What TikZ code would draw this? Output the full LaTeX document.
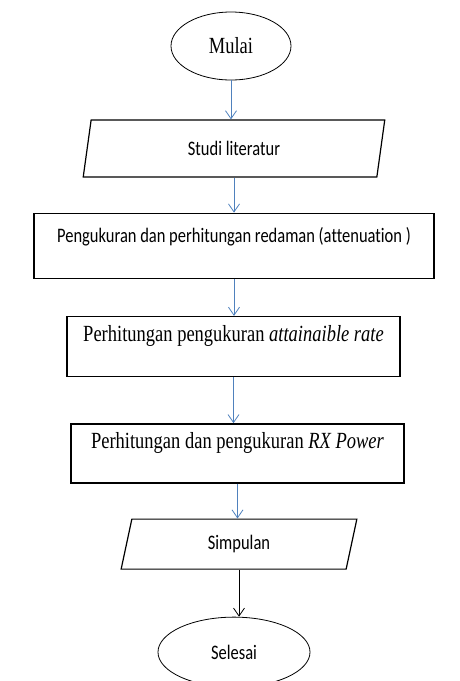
\documentclass[tikz,border=0pt]{standalone}
\usepackage{fontspec}
\usepackage{graphicx}
\setmainfont{Liberation Serif}
\newfontfamily\calibri[Ligatures=NoCommon]{Carlito}
\usetikzlibrary{shapes.geometric, arrows.meta, positioning}
\definecolor{lineblue}{RGB}{79,129,189}
\tikzstyle{term} = [draw, ellipse, line width=0.8pt, inner sep=0pt, font=\fontsize{18.5}{22}\selectfont]
\tikzstyle{io} = [draw, trapezium, trapezium left angle=80, trapezium right angle=100, trapezium stretches=true, line width=1.2pt, inner sep=0pt, font=\calibri\fontsize{16.5}{20}\selectfont]
\tikzstyle{block} = [draw, rectangle, line width=1.3pt, inner sep=0pt]
\tikzstyle{flow} = [->, draw=lineblue, line width=0.8pt]
\newcommand{\tall}[1]{\scalebox{1}[1.25]{#1}}
\begin{document}
\begin{tikzpicture}[x=1pt, y=-1pt, >={Straight Barb[length=8pt,width=11pt]}]
  \useasboundingbox (0,0) rectangle (459,681);
  \node[term, minimum width=120pt, minimum height=68pt] (mulai) at (231,46) {\tall{Mulai}};
  \node[io, minimum width=304pt, minimum height=57pt, below=39pt of mulai, xshift=3pt] (studi) {\tall{Studi literatur}};
  \node[block, minimum width=400pt, text height=29pt, text depth=36pt, below=35pt of studi, font=\calibri\fontsize{16.5}{20}\selectfont] (redaman) {\tall{Pengukuran dan perhitungan redaman (attenuation )}};
  \node[block, minimum width=333pt, text height=25pt, text depth=35pt, below=37pt of redaman, xshift=-0.5pt, font=\fontsize{18.5}{22}\selectfont] (rate) {\tall{Perhitungan pengukuran \textit{attainaible rate}}};
  \node[block, minimum width=333pt, text height=25pt, text depth=34pt, below=46pt of rate, xshift=4pt, font=\fontsize{18.5}{22}\selectfont] (rx) {\tall{Perhitungan dan pengukuran \textit{RX Power}}};
  \node[io, minimum width=236pt, minimum height=50pt, below=35pt of rx, xshift=1.5pt] (simpulan) {\tall{Simpulan}};
  \node[term, minimum width=152pt, minimum height=70pt, below=47pt of simpulan, xshift=-5pt, font=\calibri\fontsize{16.5}{20}\selectfont] (selesai) {\tall{Selesai}};
  \draw[flow] (mulai.south) -- (mulai.south |- studi.north);
  \draw[flow] (studi.south) -- (studi.south |- redaman.north);
  \draw[flow] (redaman.south) -- (redaman.south |- rate.north);
  \draw[flow] (rate.south) -- (rate.south |- rx.north);
  \draw[flow] (rx.south) -- (rx.south |- simpulan.north);
  \draw[->, line width=0.8pt] (simpulan.south) -- (simpulan.south |- selesai.north);
\end{tikzpicture}
\end{document}
